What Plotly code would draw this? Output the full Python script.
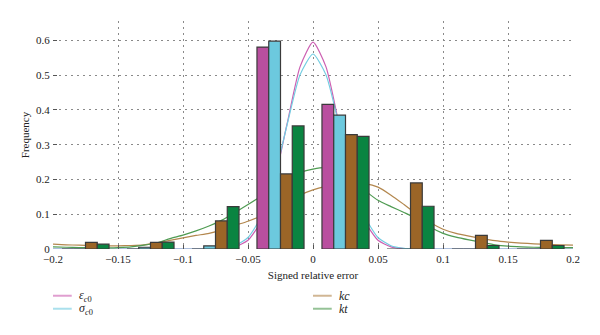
import plotly.graph_objects as go

# ---- data -------------------------------------------------------------
bin_centers = [-0.175, -0.125, -0.075, -0.025, 0.025, 0.075, 0.125, 0.175]
freq_eps = [0, 0, 0, 0.581, 0.416, 0, 0, 0]
freq_sig = [0, 0.005, 0.009, 0.598, 0.385, 0, 0, 0]
freq_kc = [0.019, 0.019, 0.081, 0.216, 0.329, 0.190, 0.039, 0.025]
freq_kt = [0.014, 0.020, 0.122, 0.354, 0.324, 0.123, 0.010, 0.010]

curve_x = [-0.20, -0.19, -0.18, -0.17, -0.16, -0.15, -0.14, -0.13, -0.12, -0.11,
           -0.10, -0.09, -0.08, -0.07, -0.06, -0.05, -0.04, -0.03, -0.02, -0.01,
           0.00, 0.01, 0.02, 0.03, 0.04, 0.05, 0.06, 0.07, 0.08, 0.09,
           0.10, 0.11, 0.12, 0.13, 0.14, 0.15, 0.16, 0.17, 0.18, 0.19, 0.20]
curve_eps = [0, 0, 0, 0, 0, 0, 0, 0, 0, 0,
             0, 0, 0, 0.001, 0.006, 0.025, 0.079, 0.191, 0.359, 0.524,
             0.595, 0.524, 0.359, 0.191, 0.079, 0.025, 0.006, 0.001, 0, 0,
             0, 0, 0, 0, 0, 0, 0, 0, 0, 0, 0]
curve_sig = [0, 0, 0, 0, 0, 0, 0, 0, 0, 0,
             0, 0, 0.0004, 0.002, 0.0095, 0.033, 0.092, 0.202, 0.356, 0.501,
             0.561, 0.501, 0.356, 0.202, 0.092, 0.033, 0.0095, 0.002, 0.0004, 0,
             0, 0, 0, 0, 0, 0, 0, 0, 0, 0, 0]
curve_kc = [0.014, 0.012, 0.011, 0.010, 0.009, 0.009, 0.010, 0.012, 0.018, 0.025,
            0.032, 0.039, 0.045, 0.055, 0.068, 0.080, 0.095, 0.115, 0.135, 0.155,
            0.170, 0.180, 0.187, 0.190, 0.188, 0.178, 0.155, 0.128, 0.100, 0.076,
            0.057, 0.045, 0.037, 0.030, 0.024, 0.020, 0.017, 0.015, 0.013, 0.012, 0.011]
curve_kt = [0.006, 0.005, 0.004, 0.004, 0.003, 0.004, 0.006, 0.011, 0.018, 0.030,
            0.040, 0.052, 0.066, 0.083, 0.105, 0.128, 0.152, 0.178, 0.202, 0.220,
            0.230, 0.234, 0.222, 0.200, 0.168, 0.140, 0.122, 0.105, 0.087, 0.063,
            0.045, 0.034, 0.026, 0.019, 0.012, 0.008, 0.006, 0.005, 0.004, 0.004, 0.004]

x_ticks = [-0.2, -0.15, -0.1, -0.05, 0, 0.05, 0.1, 0.15, 0.2]
x_labels = ["\u22120.2", "\u22120.15", "\u22120.1", "\u22120.05", "0", "0.05", "0.1", "0.15", "0.2"]
y_ticks = [0, 0.1, 0.2, 0.3, 0.4, 0.5, 0.6]
y_labels = ["0", "0.1", "0.2", "0.3", "0.4", "0.5", "0.6"]

names = ["<i>ε</i><sub><i>c</i>0</sub>", "<i>σ</i><sub><i>c</i>0</sub>", "<i>kc</i>", "<i>kt</i>"]

# ---- styles -----------------------------------------------------------
bar_colors = ["#B94F9F", "#6CC9DE", "#9B6527", "#0A8441"]
line_colors = ["#CC5FB2", "#72CDE2", "#B3874E", "#4F9B52"]
FONT = "Liberation Serif"

fig = go.Figure()

curves = [curve_eps, curve_sig, curve_kc, curve_kt]
for name, ys, col in zip(names, curves, line_colors):
    fig.add_trace(go.Scatter(x=curve_x, y=ys, mode="lines", name=name,
                             line=dict(color=col, width=1.2, shape="spline", smoothing=0.6),
                             showlegend=False, zorder=0, hoverinfo="skip"))

bars = [freq_eps, freq_sig, freq_kc, freq_kt]
for name, ys, col in zip(names, bars, bar_colors):
    fig.add_trace(go.Bar(x=bin_centers, y=ys, name=name, marker=dict(color=col,
                         line=dict(color="#3a3a3a", width=1.2)),
                         showlegend=False, zorder=1))

# ---- manual legend (two columns) --------------------------------------
legend_pos = [(0.0, -0.205), (0.0, -0.262), (0.5, -0.205), (0.5, -0.262)]
for name, col, (lx, ly) in zip(names, line_colors, legend_pos):
    fig.add_shape(type="line", xref="paper", yref="paper",
                  x0=lx, x1=lx + 0.036, y0=ly, y1=ly,
                  line=dict(color=col, width=2), opacity=0.6)
    fig.add_annotation(xref="paper", yref="paper", x=lx + 0.047, y=ly,
                       xanchor="left", yanchor="middle", text=name, showarrow=False,
                       font=dict(family=FONT, size=12, color="#222"))

fig.update_layout(
    width=600, height=335,
    margin=dict(l=53, r=27, t=21, b=86),
    paper_bgcolor="white", plot_bgcolor="white",
    barmode="group", bargap=0.276, bargroupgap=0,
    font=dict(family=FONT, size=11, color="#222"),
    showlegend=False,
)
fig.update_xaxes(range=[-0.2, 0.2], tickvals=x_ticks, ticktext=x_labels,
                 showgrid=True, gridcolor="#8a8a8a", griddash="1.5px,4.5px", gridwidth=1,
                 showline=True, linecolor="#666", linewidth=1.3, mirror=False,
                 ticks="inside", ticklen=4, tickcolor="#555", zeroline=False,
                 title=dict(text="Signed relative error", standoff=6,
                            font=dict(family=FONT, size=11)))
fig.update_yaxes(range=[0, 0.656], tickvals=y_ticks, ticktext=y_labels,
                 showgrid=True, gridcolor="#8a8a8a", griddash="1.5px,4.5px", gridwidth=1,
                 showline=True, linecolor="#666", linewidth=1.3, mirror=True,
                 ticks="inside", ticklen=4, tickcolor="#555", zeroline=False,
                 title=dict(text="Frequency", standoff=4, font=dict(family=FONT, size=11)))

fig.write_html("out.html")
